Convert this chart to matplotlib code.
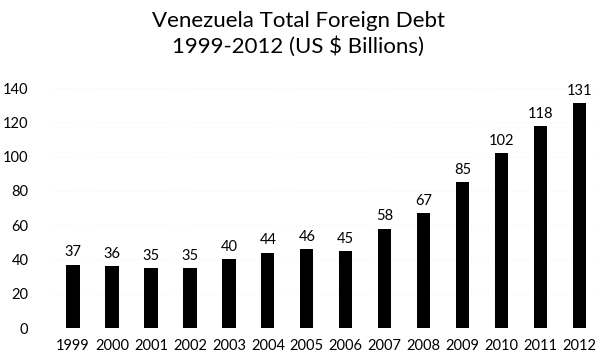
import matplotlib.pyplot as plt

years = ["1999", "2000", "2001", "2002", "2003", "2004", "2005",
         "2006", "2007", "2008", "2009", "2010", "2011", "2012"]
debt = [37, 36, 35, 35, 40, 44, 46, 45, 58, 67, 85, 102, 118, 131]

plt.rcParams["font.family"] = ["Lato", "DejaVu Sans"]

fig = plt.figure(figsize=(5.96, 3.56), dpi=100)
ax = fig.add_axes([53.5 / 596, 28 / 356, 1 - 53.5 / 596, 240 / 356])

x = range(len(years))
bars = ax.bar(x, debt, width=0.34, color="black", zorder=3)

for bar, v in zip(bars, debt):
    ax.text(bar.get_x() + bar.get_width() / 2, v + 3, str(v),
            ha="center", va="bottom", fontsize=10.5)

ax.set_xlim(-0.5, 13.42)
ax.set_ylim(0, 140)
ax.set_yticks(range(0, 141, 20))
ax.set_xticks(list(x))
ax.set_xticklabels(years)
ax.tick_params(axis="both", length=0, labelsize=10.5)
ax.tick_params(axis="y", pad=18)
ax.tick_params(axis="x", pad=8)
ax.yaxis.grid(True, color="#e8e8e8", linestyle=(0, (1, 4)), linewidth=0.6, zorder=0)
for s in ax.spines.values():
    s.set_visible(False)

fig.text(0.5, 0.905, "Venezuela Total Foreign Debt\n1999-2012 (US $ Billions)",
         ha="center", va="center", fontsize=16, linespacing=1.3)

fig.savefig("out.png", dpi=100)
